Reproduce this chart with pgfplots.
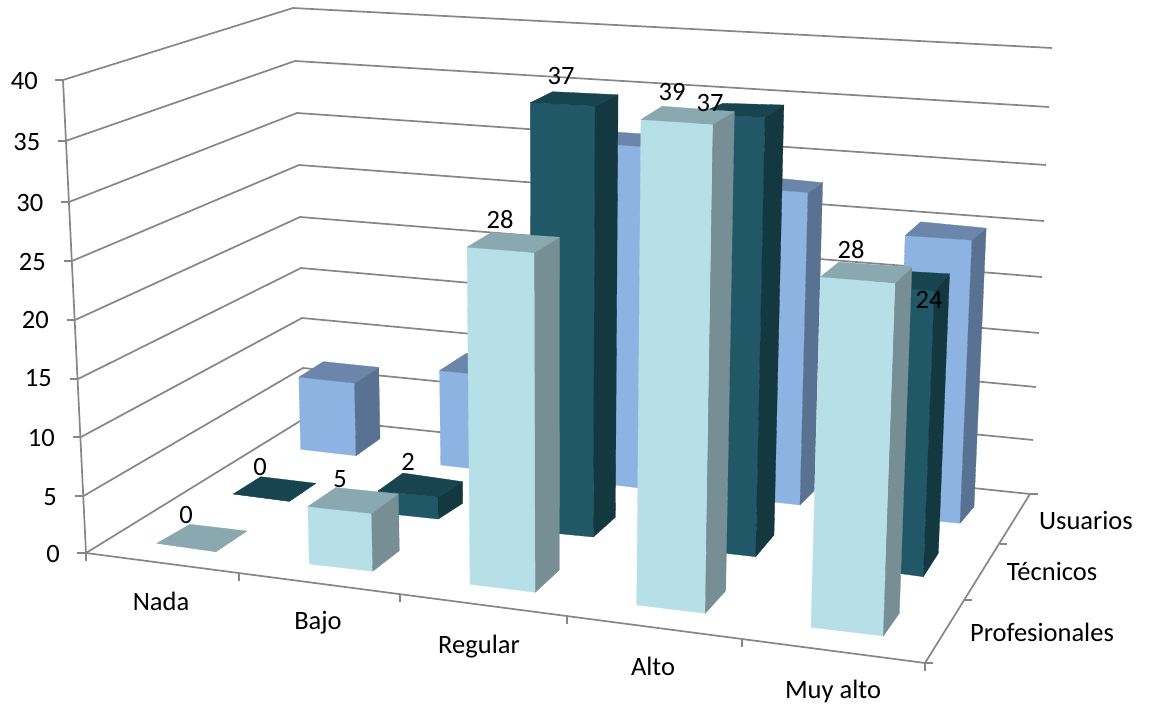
\documentclass[border=0pt]{standalone}
\usepackage{fontspec}
\setmainfont{Carlito}
\usepackage{xfp}
\usepackage{pgfplots}
\usepackage{pgfplotstable}
\pgfplotsset{compat=1.18}

\definecolor{UFront}{HTML}{8DB3E2}
\definecolor{UTop}{HTML}{6C86AB}
\definecolor{USide}{HTML}{5A7292}
\definecolor{TFront}{HTML}{205867}
\definecolor{TTop}{HTML}{18444F}
\definecolor{TSide}{HTML}{143840}
\definecolor{PFront}{HTML}{B7DFE8}
\definecolor{PTop}{HTML}{8AA8AF}
\definecolor{PSide}{HTML}{768E94}
\definecolor{frame}{HTML}{868686}

\tikzset{lab/.style={font=\fontsize{26.5}{31}\selectfont, inner sep=0pt, text=black}}
\pgfplotsset{frameline/.style={draw=frame, line width=1.7pt, forget plot}}

% One row per bar, drawn back to front: series, value, then the four floor
% corners of the bar (front left, front right, back right, back left).
\pgfplotstableread{
s val  xa    ya    xb    yb    xc    yc    xd    yd
U  7   300.7 449.3 356.0 455.7 380.0 438.7 325.0 432.5
U  9   440.7 465.0 498.0 471.5 522.0 455.0 467.0 446.0
U  31  590.0 482.0 651.0 489.4 671.0 472.0 610.0 465.0
U  28  738.0 498.0 800.0 505.0 814.3 490.7 755.0 482.0
U  25  895.2 517.0 960.0 523.3 974.0 506.7 910.5 498.0
T  0   233.3 494.0 289.3 501.3 315.7 483.3 260.7 476.7
T  2   378.5 512.7 438.3 519.0 462.7 503.3 403.3 494.5
T  37  531.3 531.0 593.3 537.0 615.3 517.3 552.7 512.0
T  37  692.7 549.6 755.7 556.7 774.0 535.0 715.8 532.0
T  24  858.0 568.0 923.3 576.7 938.3 553.3 873.0 548.0
P  0   156.7 543.3 215.7 551.7 246.7 531.0 190.0 524.3
P  5   309.3 564.0 372.7 571.3 399.3 550.7 337.0 544.0
P  28  470.0 584.3 535.3 592.3 559.3 570.0 493.5 563.0
P  39  636.7 605.0 705.3 613.3 725.7 590.7 657.0 581.0
P  28  811.0 627.3 883.3 636.0 899.3 613.3 829.0 606.0
}\bars

% Central projection: verticals run to a vanishing point below the chart, and
% a point rises away from it by a factor that depends on its floor row.
\newcommand\lift[4]{%
  \edef\liftscale{\fpeval{1/(1-1.197e-6*(#2+430)*\barval)}}%
  \edef#3{\fpeval{553+(#1-553)*\liftscale}}%
  \edef#4{\fpeval{10166-(10166-#2)*\liftscale}}%
}
\newcommand\cell[2]{\pgfplotstablegetelem{\barrow}{#1}\of\bars\edef#2{\pgfplotsretval}}
\newcommand\face[9]{%
  \edef\facecmd{\noexpand\addplot[fill=#1,draw=#1,line width=0.3pt,forget plot]
    coordinates {(#2,#3)(#4,#5)(#6,#7)(#8,#9)} -- cycle;}\facecmd}

\begin{document}
\begin{tikzpicture}
\begin{axis}[
  scale only axis, width=1150pt, height=711pt,
  xmin=0, xmax=1150, ymin=0, ymax=711, y dir=reverse,
  hide axis, clip=false,
  no markers,
  every axis plot/.append style={line join=round},
]
% page extent
\addplot[draw=none, forget plot] coordinates {(0,0)(1150,711)};

% side wall and back wall rules for 40, 35, ... 0
\addplot[frameline] coordinates {(63,80)(293,8)(1052,48)};
\addplot[frameline] coordinates {(65.5,141)(295,61)(1049,107)};
\addplot[frameline] coordinates {(69,202)(297,113)(1046,165)};
\addplot[frameline] coordinates {(72,261)(299,165)(1044,221)};
\addplot[frameline] coordinates {(75,320)(300,217)(1042,277)};
\addplot[frameline] coordinates {(78,379)(301,268)(1039,333)};
\addplot[frameline] coordinates {(81,437)(302,318)(1036,387)};
\addplot[frameline] coordinates {(83.5,496)(303,368)(1033,440)};
\addplot[frameline] coordinates {(86,553)(305,418)(1030,494)};

% vertical axis and floor outline
\addplot[frameline] coordinates {(63,80)(86,553)};
\addplot[frameline] coordinates {(86,553)(925,663)(1030,494)};

% tick marks
\addplot[frameline] coordinates {(55,80)(63,80)};
\addplot[frameline] coordinates {(58,141)(65.5,141)};
\addplot[frameline] coordinates {(61,202)(69,202)};
\addplot[frameline] coordinates {(64,261)(72,261)};
\addplot[frameline] coordinates {(67,320)(75,320)};
\addplot[frameline] coordinates {(70,379)(78,379)};
\addplot[frameline] coordinates {(73,437)(81,437)};
\addplot[frameline] coordinates {(75,496)(83.5,496)};
\addplot[frameline] coordinates {(77,553)(86,553)};
\addplot[frameline] coordinates {(86,553)(86,561)};
\addplot[frameline] coordinates {(239,574)(239,581)};
\addplot[frameline] coordinates {(400,595)(400,602)};
\addplot[frameline] coordinates {(567,617)(567,624)};
\addplot[frameline] coordinates {(742,640)(742,647)};
\addplot[frameline] coordinates {(925,663)(925,671)};
\addplot[frameline] coordinates {(925,663)(933,663)};
\addplot[frameline] coordinates {(965,600)(972,600)};
\addplot[frameline] coordinates {(1000,544)(1007,544)};
\addplot[frameline] coordinates {(1030,494)(1038,494)};

% bars
\pgfplotsinvokeforeach{0,...,14}{%
  \def\barrow{#1}%
  \cell{s}\barser \cell{val}\barval
  \cell{xa}\xa \cell{ya}\ya \cell{xb}\xb \cell{yb}\yb
  \cell{xc}\xc \cell{yc}\yc \cell{xd}\xd \cell{yd}\yd
  \lift\xa\ya\uxa\uya \lift\xb\yb\uxb\uyb
  \lift\xc\yc\uxc\uyc \lift\xd\yd\uxd\uyd
  \face{\barser Front}\xa\ya\xb\yb\uxb\uyb\uxa\uya
  \face{\barser Side}\xb\yb\xc\yc\uxc\uyc\uxb\uyb
  \face{\barser Top}\uxa\uya\uxb\uyb\uxc\uyc\uxd\uyd
}

% value labels
\node[lab] at (axis cs:186,515) {0};
\node[lab] at (axis cs:260,467) {0};
\node[lab] at (axis cs:340,479) {5};
\node[lab] at (axis cs:408,462) {2};
\node[lab] at (axis cs:500,220) {28};
\node[lab] at (axis cs:561,76) {37};
\node[lab] at (axis cs:672,92) {39};
\node[lab] at (axis cs:710,103) {37};
\node[lab] at (axis cs:851,250) {28};
\node[lab] at (axis cs:929,300) {24};

% vertical axis numbers
\node[lab,anchor=east] at (axis cs:38,81) {40};
\node[lab,anchor=east] at (axis cs:40.5,142) {35};
\node[lab,anchor=east] at (axis cs:43.5,203) {30};
\node[lab,anchor=east] at (axis cs:46,262) {25};
\node[lab,anchor=east] at (axis cs:49,320) {20};
\node[lab,anchor=east] at (axis cs:52,378) {15};
\node[lab,anchor=east] at (axis cs:55,438) {10};
\node[lab,anchor=east] at (axis cs:57,497) {5};
\node[lab,anchor=east] at (axis cs:60,554) {0};

% category and series names
\node[lab] at (axis cs:161,601) {Nada};
\node[lab] at (axis cs:318,623) {Bajo};
\node[lab] at (axis cs:479,647) {Regular};
\node[lab] at (axis cs:653,666) {Alto};
\node[lab] at (axis cs:833,691) {Muy alto};
\node[lab] at (axis cs:1086,520) {Usuarios};
\node[lab] at (axis cs:1052,571) {Técnicos};
\node[lab] at (axis cs:1042,632) {Profesionales};
\end{axis}
\end{tikzpicture}
\end{document}
